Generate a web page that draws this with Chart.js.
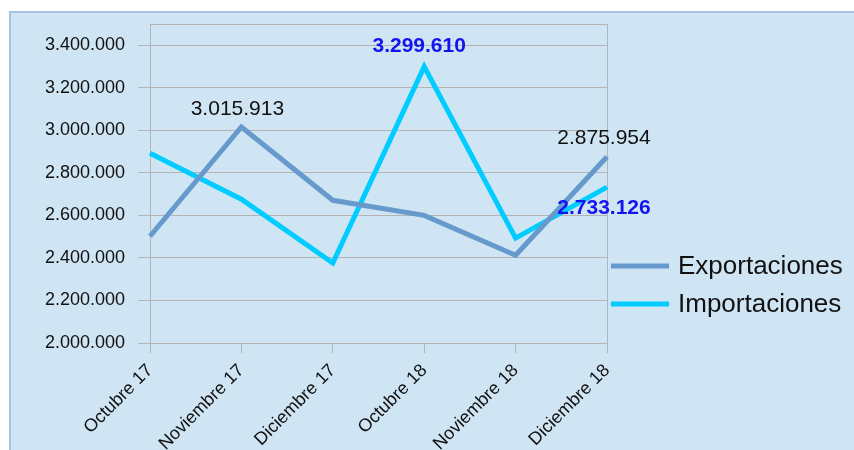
<!DOCTYPE html>
<html>
<head>
<meta charset="utf-8">
<script src="https://cdn.jsdelivr.net/npm/chart.js@4.4.1/dist/chart.umd.min.js"></script>
<style>
  body { margin: 0; background: #ffffff; }
  #panel {
    position: absolute; left: 9px; top: 11px; width: 845px; height: 439px;
    background: #cfe5f3; border-top: 2px solid #a7c3e4; border-left: 2px solid #a7c3e4;
    box-sizing: border-box;
  }
  #mychart { position: absolute; left: 0; top: 0; }
</style>
</head>
<body>
<div id="panel"></div>
<canvas id="mychart" width="854" height="450"></canvas>
<script>
var categorias = ["Octubre 17", "Noviembre 17", "Diciembre 17", "Octubre 18", "Noviembre 18", "Diciembre 18"];
var exportaciones = [2502000, 3015913, 2671000, 2600000, 2413000, 2875954];
var importaciones = [2892000, 2676000, 2376000, 3299610, 2493000, 2733126];
var yTicks = [2000000, 2200000, 2400000, 2600000, 2800000, 3000000, 3200000, 3400000];
var yTope = 3500000;

var gris = "#b4b4b4";

function formato(v) {
    return String(Math.round(v)).replace(/\B(?=(\d{3})+(?!\d))/g, ".");
}

// which points carry a value label, and how it is drawn
var etiquetas = [
    { ds: 0, i: 1, dx: -4, dy: -18, color: "#111111", bold: false },
    { ds: 0, i: 5, dx: -3, dy: -19, color: "#111111", bold: false },
    { ds: 1, i: 3, dx: -5, dy: -20, color: "#1414f0", bold: true },
    { ds: 1, i: 5, dx: -3, dy: 21, color: "#1414f0", bold: true }
];

var pluginEtiquetas = {
    id: "etiquetas",
    afterDatasetsDraw: function(chart) {
        var ctx = chart.ctx;
        ctx.save();
        ctx.textAlign = "center";
        ctx.textBaseline = "middle";
        etiquetas.forEach(function(e) {
            var pt = chart.getDatasetMeta(e.ds).data[e.i];
            var v = chart.data.datasets[e.ds].data[e.i];
            ctx.font = (e.bold ? "bold " : "") + "21px 'Liberation Sans'";
            ctx.fillStyle = e.color;
            ctx.fillText(formato(v), pt.x + e.dx, pt.y + e.dy);
        });
        ctx.restore();
    }
};

var pluginLeyenda = {
    id: "leyenda",
    afterDraw: function(chart) {
        var ctx = chart.ctx;
        var a = chart.chartArea;
        ctx.save();
        ctx.font = "26px 'Liberation Sans'";
        ctx.textBaseline = "middle";
        chart.data.datasets.forEach(function(ds, k) {
            var y = a.top + 242 + k * 38;
            ctx.strokeStyle = ds.borderColor;
            ctx.lineWidth = 5;
            ctx.beginPath();
            ctx.moveTo(a.right + 4, y);
            ctx.lineTo(a.right + 62, y);
            ctx.stroke();
            ctx.fillStyle = "#111111";
            ctx.fillText(ds.label, a.right + 71, y + 1);
        });
        ctx.restore();
    }
};

window.addEventListener("load", function() {
    Chart.defaults.font.family = "'Liberation Sans', Arial, sans-serif";
    var canvas = document.getElementById("mychart").getContext("2d");
    new Chart(canvas, {
        type: "line",
        data: {
            labels: categorias,
            datasets: [{
                label: "Exportaciones",
                data: exportaciones,
                borderColor: "#6699cc",
                borderWidth: 5,
                pointRadius: 0,
                tension: 0
            }, {
                label: "Importaciones",
                data: importaciones,
                borderColor: "#00ccff",
                borderWidth: 5,
                pointRadius: 0,
                tension: 0
            }]
        },
        options: {
            responsive: false,
            animation: false,
            layout: { padding: { top: 24, right: 247, left: 0, bottom: 0 } },
            plugins: { legend: { display: false }, tooltip: { enabled: false } },
            scales: {
                x: {
                    offset: false,
                    afterFit: function(s) { s.height = 107; },
                    grid: {
                        color: function(c) { return (c.index === 0 || c.index === categorias.length - 1) ? gris : "transparent"; },
                        tickColor: gris,
                        tickLength: 10,
                        lineWidth: 1
                    },
                    border: { color: gris },
                    ticks: { color: "#111111", font: { size: 18 }, minRotation: 45, maxRotation: 45, padding: 7 }
                },
                y: {
                    min: yTicks[0],
                    max: yTope,
                    afterFit: function(s) { s.width = 150; },
                    afterBuildTicks: function(s) {
                        s.ticks = yTicks.concat([yTope]).map(function(v) { return { value: v }; });
                    },
                    grid: {
                        color: gris,
                        tickColor: function(c) { return c.tick && c.tick.value === yTope ? "transparent" : gris; },
                        tickLength: 12,
                        lineWidth: 1
                    },
                    border: { color: gris },
                    ticks: {
                        color: "#111111",
                        font: { size: 18 },
                        padding: 13,
                        callback: function(v) { return v === yTope ? "" : formato(v); }
                    }
                }
            }
        },
        plugins: [pluginEtiquetas, pluginLeyenda]
    });
});
</script>
</body>
</html>
